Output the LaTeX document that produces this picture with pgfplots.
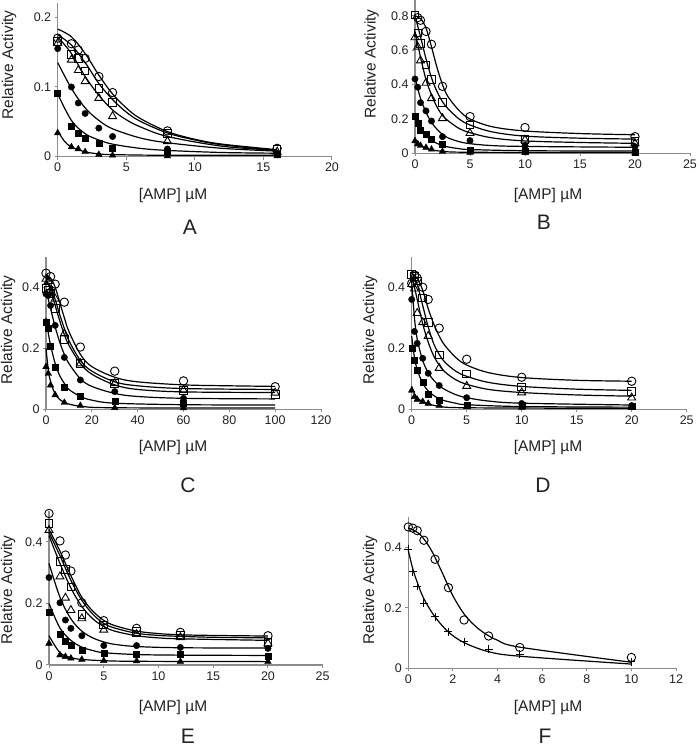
\documentclass[border=0pt]{standalone}
\usepackage{pgfplots}
\pgfplotsset{compat=1.18}
\usepackage{fontspec}
\setmainfont{Liberation Sans}
\definecolor{axgray}{HTML}{8C8C8C}
\definecolor{txt}{HTML}{222222}
\pgfplotsset{
  panel/.style={
    scale only axis, anchor=south west,
    axis lines=left, axis line style={-, draw=axgray, line width=1.2pt},
    tick align=outside, major tick length=3pt,
    tick style={draw=axgray, line width=1pt},
    xmin=0, ymin=0, clip=false,
    /pgf/number format/assume math mode=true,
    tick label style={font=\fontsize{12.5}{14}\selectfont, text=txt},
  },
  fit/.style={no marks, smooth, tension=0.55, black, line width=1.2pt},
  oc/.style={only marks, mark=o, mark size=4.2pt, mark options={line width=0.9pt, black}},
  os/.style={only marks, mark=square, mark size=3.8pt, mark options={line width=0.9pt, black}},
  ot/.style={only marks, mark=triangle, mark size=4.6pt, mark options={line width=0.9pt, black}},
  fc/.style={only marks, mark=*, mark size=3.2pt, mark options={black}},
  fs/.style={only marks, mark=square*, mark size=3pt, mark options={black}},
  ft/.style={only marks, mark=triangle*, mark size=3.8pt, mark options={black}},
  pl/.style={only marks, mark=+, mark size=4pt, mark options={line width=1pt, black}},
}
\newcommand{\ttl}{\fontsize{15.5}{17}\selectfont}
\newcommand{\ltr}{\fontsize{21}{24}\selectfont}
\begin{document}
\begin{tikzpicture}
\useasboundingbox (0,0) rectangle (700pt,748pt);
% ---------------- A ----------------
\begin{axis}[panel, at={(57.7pt,591.3pt)}, width=274.3pt, height=153.4pt,
  xmax=20, ymax=0.22, xtick={0,5,10,15,20}, ytick={0,0.1,0.2}, yticklabels={0,0.1,0.2}]
\addplot[fit] coordinates {(0,0.183)(1,0.172)(2,0.148)(3,0.117)(4,0.09)(5,0.07)(6,0.055)(8,0.036)(10,0.025)(12,0.018)(16,0.01)};
\addplot[fit] coordinates {(0,0.175)(1,0.16)(2,0.135)(3,0.105)(4,0.082)(5,0.064)(6,0.051)(8,0.034)(10,0.024)(12,0.017)(16,0.009)};
\addplot[fit] coordinates {(0,0.172)(1,0.148)(2,0.115)(3,0.088)(4,0.067)(5,0.053)(6,0.043)(8,0.029)(12,0.015)(16,0.009)};
\addplot[fit] coordinates {(0,0.135)(1,0.098)(2,0.07)(3,0.052)(4,0.04)(6,0.027)(8,0.02)(12,0.012)(16,0.008)};
\addplot[fit] coordinates {(0,0.09)(1,0.052)(2,0.033)(3,0.024)(4,0.018)(6,0.012)(8,0.009)(12,0.006)(16,0.005)};
\addplot[fit] coordinates {(0,0.037)(0.5,0.022)(1,0.014)(2,0.007)(3,0.004)(4,0.003)(8,0.002)(16,0.002)};
\addplot[oc] coordinates {(0,0.17)(1,0.162)(1.5,0.153)(2,0.141)(3,0.115)(4,0.092)(8,0.037)(16,0.012)};
\addplot[os] coordinates {(0,0.165)(1,0.147)(1.5,0.141)(2,0.123)(3,0.098)(4,0.078)(8,0.033)(16,0.011)};
\addplot[ot] coordinates {(0,0.163)(1,0.139)(1.5,0.124)(2,0.108)(3,0.084)(4,0.058)(8,0.022)(16,0.007)};
\addplot[fc] coordinates {(0,0.155)(1,0.1)(1.5,0.077)(2,0.062)(3,0.041)(4,0.029)(8,0.011)(16,0.005)};
\addplot[fs] coordinates {(0,0.091)(1,0.044)(1.5,0.034)(2,0.027)(3,0.019)(4,0.012)(8,0.006)(16,0.003)};
\addplot[ft] coordinates {(0,0.034)(1,0.014)(1.5,0.011)(2,0.007)(3,0.003)(4,0.002)(8,0.001)(16,0.001)};
\end{axis}
% ---------------- B ----------------
\begin{axis}[panel, at={(415pt,594.7pt)}, width=275pt, height=153.3pt,
  xmax=25, ymax=0.893, xtick={0,5,10,15,20,25}, ytick={0,0.2,0.4,0.6,0.8}, yticklabels={0,0.2,0.4,0.6,0.8}]
\addplot[fit] coordinates {(0,0.8)(0.5,0.785)(1,0.73)(1.5,0.62)(2,0.5)(2.5,0.4)(3,0.33)(4,0.25)(5,0.2)(7,0.155)(10,0.13)(15,0.115)(20,0.108)};
\addplot[fit] coordinates {(0,0.8)(0.5,0.68)(1,0.55)(1.5,0.44)(2,0.36)(2.5,0.3)(3,0.26)(4,0.2)(5,0.165)(7,0.125)(10,0.1)(15,0.088)(20,0.083)};
\addplot[fit] coordinates {(0,0.71)(0.5,0.56)(1,0.43)(1.5,0.34)(2,0.27)(2.5,0.22)(3,0.19)(4,0.145)(5,0.12)(7,0.09)(10,0.072)(15,0.063)(20,0.058)};
\addplot[fit] coordinates {(0,0.44)(0.5,0.32)(1,0.24)(1.5,0.18)(2,0.14)(2.5,0.11)(3,0.09)(4,0.068)(5,0.056)(7,0.045)(10,0.04)(20,0.035)};
\addplot[fit] coordinates {(0,0.22)(0.5,0.14)(1,0.1)(1.5,0.075)(2,0.058)(2.5,0.045)(3,0.037)(4,0.027)(5,0.022)(10,0.015)(20,0.013)};
\addplot[fit] coordinates {(0,0.075)(0.5,0.045)(1,0.03)(1.5,0.02)(2.5,0.012)(5,0.006)(20,0.004)};
\addplot[oc] coordinates {(0.25,0.79)(0.5,0.775)(1,0.71)(1.5,0.635)(2.5,0.39)(5,0.214)(10,0.15)(20,0.097)};
\addplot[os] coordinates {(0,0.805)(0.25,0.70)(0.5,0.64)(1,0.515)(1.5,0.43)(2.5,0.295)(5,0.165)(10,0.082)(20,0.068)};
\addplot[ot] coordinates {(0,0.675)(0.25,0.62)(0.5,0.54)(1,0.41)(1.5,0.32)(2.5,0.204)(5,0.117)(10,0.078)(20,0.058)};
\addplot[fc] coordinates {(0,0.433)(0.25,0.385)(0.5,0.295)(1,0.247)(1.5,0.188)(2.5,0.097)(5,0.074)(10,0.045)(20,0.039)};
\addplot[fs] coordinates {(0,0.214)(0.25,0.175)(0.5,0.136)(1,0.113)(1.5,0.082)(2.5,0.054)(5,0.016)(10,0.01)(20,0.004)};
\addplot[ft] coordinates {(0,0.072)(0.25,0.054)(0.5,0.045)(1,0.033)(1.5,0.023)(2.5,0.01)(5,0.004)(10,0.003)(20,0.002)};
\end{axis}
% ---------------- C ----------------
\begin{axis}[panel, at={(46pt,338.7pt)}, width=275pt, height=152.6pt,
  xmax=120, ymax=0.5, xtick={0,20,40,60,80,100,120}, ytick={0,0.2,0.4}, yticklabels={0,0.2,0.4}]
\addplot[fit] coordinates {(0,0.44)(2,0.43)(4,0.4)(6,0.35)(8,0.3)(10,0.255)(15,0.18)(20,0.14)(30,0.105)(40,0.09)(60,0.08)(80,0.077)(100,0.075)};
\addplot[fit] coordinates {(0,0.42)(2,0.4)(4,0.36)(6,0.31)(8,0.265)(10,0.225)(15,0.16)(20,0.125)(30,0.09)(40,0.077)(60,0.068)(100,0.065)};
\addplot[fit] coordinates {(0,0.43)(2,0.39)(4,0.34)(6,0.29)(8,0.245)(10,0.21)(15,0.15)(20,0.115)(30,0.08)(40,0.065)(60,0.057)(100,0.055)};
\addplot[fit] coordinates {(0,0.39)(2,0.33)(4,0.27)(6,0.22)(8,0.18)(10,0.15)(15,0.1)(20,0.075)(30,0.052)(40,0.042)(60,0.036)(100,0.034)};
\addplot[fit] coordinates {(0,0.3)(1,0.25)(2,0.21)(4,0.15)(6,0.11)(8,0.085)(10,0.065)(15,0.042)(20,0.03)(30,0.02)(60,0.015)(100,0.014)};
\addplot[fit] coordinates {(0,0.2)(1,0.13)(2,0.09)(4,0.05)(6,0.032)(8,0.022)(15,0.01)(30,0.005)(100,0.004)};
\addplot[oc] coordinates {(0,0.446)(2,0.435)(4,0.41)(8,0.351)(15,0.204)(30,0.125)(60,0.093)(100,0.074)};
\addplot[os] coordinates {(0,0.395)(1,0.39)(2,0.38)(4,0.33)(8,0.229)(15,0.15)(30,0.085)(60,0.061)(100,0.049)};
\addplot[ot] coordinates {(0,0.427)(1,0.42)(2,0.39)(4,0.362)(8,0.248)(15,0.15)(30,0.085)(60,0.063)(100,0.054)};
\addplot[fc] coordinates {(0,0.378)(1,0.373)(2,0.34)(4,0.275)(8,0.17)(15,0.096)(30,0.058)(60,0.036)};
\addplot[fs] coordinates {(0,0.286)(1,0.267)(2,0.207)(4,0.139)(8,0.074)(15,0.043)(30,0.025)(60,0.02)};
\addplot[ft] coordinates {(0,0.139)(1,0.117)(2,0.079)(4,0.047)(8,0.022)(15,0.012)(30,0.005)(60,0.004)};
\end{axis}
% ---------------- D ----------------
\begin{axis}[panel, at={(411.7pt,338.7pt)}, width=275pt, height=152.6pt,
  xmax=25, ymax=0.5, xtick={0,5,10,15,20,25}, ytick={0,0.2,0.4}, yticklabels={0,0.2,0.4}]
\addplot[fit] coordinates {(0,0.445)(0.5,0.43)(1,0.39)(1.5,0.33)(2,0.28)(2.5,0.24)(3,0.21)(4,0.17)(5,0.145)(7,0.12)(10,0.104)(15,0.095)(20,0.092)};
\addplot[fit] coordinates {(0,0.45)(0.5,0.41)(1,0.34)(1.5,0.27)(2,0.215)(2.5,0.18)(3,0.155)(4,0.125)(5,0.108)(7,0.088)(10,0.075)(15,0.066)(20,0.062)};
\addplot[fit] coordinates {(0,0.44)(0.5,0.36)(1,0.28)(1.5,0.22)(2,0.175)(2.5,0.145)(3,0.123)(4,0.097)(5,0.082)(7,0.065)(10,0.055)(15,0.047)(20,0.043)};
\addplot[fit] coordinates {(0,0.42)(0.25,0.3)(0.5,0.23)(1,0.16)(1.5,0.12)(2,0.095)(2.5,0.078)(3,0.065)(4,0.048)(5,0.038)(7,0.027)(10,0.02)(20,0.014)};
\addplot[fit] coordinates {(0,0.24)(0.25,0.17)(0.5,0.13)(1,0.085)(1.5,0.06)(2,0.045)(2.5,0.035)(3,0.028)(4,0.02)(5,0.015)(10,0.009)(20,0.007)};
\addplot[fit] coordinates {(0,0.075)(0.25,0.05)(0.5,0.037)(1,0.025)(1.5,0.018)(2.5,0.01)(5,0.005)(20,0.003)};
\addplot[oc] coordinates {(0,0.413)(0.25,0.44)(0.5,0.43)(1,0.4)(1.5,0.36)(2.5,0.266)(5,0.164)(10,0.105)(20,0.092)};
\addplot[os] coordinates {(0,0.441)(0.25,0.435)(0.5,0.42)(1,0.365)(1.5,0.284)(2.5,0.178)(5,0.116)(10,0.073)(20,0.059)};
\addplot[ot] coordinates {(0,0.41)(0.25,0.395)(0.5,0.315)(1,0.285)(1.5,0.24)(2.5,0.135)(5,0.076)(10,0.055)(20,0.038)};
\addplot[fc] coordinates {(0,0.36)(0.25,0.255)(0.5,0.216)(1,0.167)(1.5,0.118)(2.5,0.078)(5,0.038)(10,0.019)(20,0.012)};
\addplot[fs] coordinates {(0,0.2)(0.25,0.162)(0.5,0.127)(1,0.089)(1.5,0.049)(2.5,0.03)(5,0.014)(10,0.012)(20,0.01)};
\addplot[ft] coordinates {(0,0.062)(0.25,0.041)(0.5,0.032)(1,0.025)(1.5,0.019)(2.5,0.012)(5,0.008)(10,0.006)(20,0.005)};
\end{axis}
% ---------------- E ----------------
\begin{axis}[panel, at={(49pt,83pt)}, width=273.7pt, height=154pt,
  xmax=25, ymax=0.5, xtick={0,5,10,15,20,25}, ytick={0,0.2,0.4}, yticklabels={0,0.2,0.4}]
\addplot[fit] coordinates {(0,0.44)(1,0.37)(2,0.29)(3,0.22)(4,0.175)(5,0.145)(6,0.128)(8,0.11)(10,0.102)(12,0.098)(15,0.096)(20,0.094)};
\addplot[fit] coordinates {(0,0.43)(1,0.355)(2,0.275)(3,0.21)(4,0.165)(5,0.135)(6,0.12)(8,0.103)(10,0.096)(12,0.093)(15,0.09)(20,0.088)};
\addplot[fit] coordinates {(0,0.42)(1,0.33)(2,0.25)(3,0.19)(4,0.15)(5,0.125)(6,0.11)(8,0.095)(10,0.088)(12,0.085)(20,0.08)};
\addplot[fit] coordinates {(0,0.33)(1,0.22)(2,0.15)(3,0.11)(4,0.088)(5,0.075)(6,0.067)(8,0.06)(12,0.056)(20,0.055)};
\addplot[fit] coordinates {(0,0.2)(1,0.12)(2,0.08)(3,0.058)(4,0.047)(5,0.04)(8,0.034)(12,0.032)(20,0.031)};
\addplot[fit] coordinates {(0,0.095)(1,0.04)(2,0.024)(3,0.018)(5,0.014)(8,0.012)(20,0.011)};
\addplot[oc] coordinates {(0,0.492)(1,0.403)(1.5,0.357)(2,0.305)(3,0.202)(5,0.144)(8,0.119)(12,0.106)(20,0.095)};
\addplot[os] coordinates {(0,0.459)(1,0.337)(1.5,0.311)(2,0.254)(3,0.164)(5,0.13)(8,0.108)(12,0.095)(20,0.074)};
\addplot[ot] coordinates {(0,0.438)(1,0.287)(1.5,0.218)(2,0.178)(3,0.151)(5,0.114)(8,0.1)(12,0.09)(20,0.07)};
\addplot[fc] coordinates {(0,0.284)(1,0.202)(1.5,0.146)(2,0.119)(3,0.095)(5,0.063)(8,0.063)(12,0.057)(20,0.054)};
\addplot[fs] coordinates {(0,0.173)(1,0.1)(1.5,0.076)(2,0.063)(3,0.049)(5,0.038)(8,0.034)(12,0.034)(20,0.03)};
\addplot[ft] coordinates {(0,0.07)(1,0.032)(1.5,0.027)(2,0.022)(3,0.018)(5,0.014)(8,0.013)(12,0.011)(20,0.011)};
\end{axis}
% ---------------- F ----------------
\begin{axis}[panel, at={(408.3pt,79.7pt)}, width=267.7pt, height=151pt,
  xmax=12, ymax=0.5, xtick={0,2,4,6,8,10,12}, ytick={0,0.2,0.4}, yticklabels={0,0.2,0.4}]
\addplot[fit] coordinates {(0,0.465)(0.5,0.445)(1,0.395)(1.5,0.32)(2,0.24)(2.5,0.18)(3,0.14)(3.5,0.112)(4,0.093)(5,0.07)(10,0.02)};
\addplot[fit] coordinates {(0,0.39)(0.2,0.33)(0.4,0.285)(0.7,0.23)(1.2,0.17)(1.8,0.12)(2.5,0.085)(3.6,0.055)(5,0.04)(10,0.014)};
\addplot[oc] coordinates {(0,0.468)(0.2,0.464)(0.4,0.456)(0.7,0.424)(1.2,0.361)(1.8,0.267)(2.5,0.16)(3.6,0.107)(5,0.069)(10,0.036)};
\addplot[pl] coordinates {(0,0.394)(0.2,0.319)(0.4,0.272)(0.7,0.215)(1.2,0.171)(1.8,0.121)(2.5,0.088)(3.6,0.063)(5,0.046)(10,0.022)};
\end{axis}
% ---------------- labels ----------------
\begin{scope}[every node/.style={text=txt}]
\node[rotate=90] at (9pt,683pt) {\ttl Relative Activity};
\node[rotate=90] at (371.7pt,684pt) {\ttl Relative Activity};
\node[rotate=90] at (8pt,418pt) {\ttl Relative Activity};
\node[rotate=90] at (370pt,418pt) {\ttl Relative Activity};
\node[rotate=90] at (8pt,158pt) {\ttl Relative Activity};
\node[rotate=90] at (370pt,158pt) {\ttl Relative Activity};
\node at (173pt,553pt) {\ttl [AMP] µM};
\node at (548pt,553pt) {\ttl [AMP] µM};
\node at (173pt,301pt) {\ttl [AMP] µM};
\node at (548pt,301pt) {\ttl [AMP] µM};
\node at (173pt,41pt) {\ttl [AMP] µM};
\node at (548pt,41pt) {\ttl [AMP] µM};
\node[anchor=base, inner sep=0pt] at (190pt,513pt) {\ltr A};
\node[anchor=base, inner sep=0pt] at (544pt,518pt) {\ltr B};
\node[anchor=base, inner sep=0pt] at (188pt,255pt) {\ltr C};
\node[anchor=base, inner sep=0pt] at (543pt,255pt) {\ltr D};
\node[anchor=base, inner sep=0pt] at (188pt,4.5pt) {\ltr E};
\node[anchor=base, inner sep=0pt] at (545pt,4.5pt) {\ltr F};
\end{scope}
\end{tikzpicture}
\end{document}
